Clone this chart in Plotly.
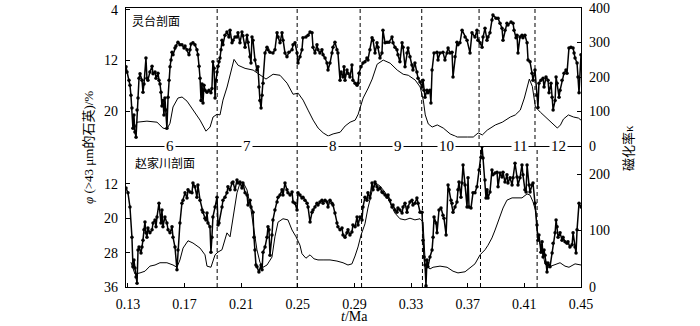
import plotly.graph_objects as go

# -------------------------
# Lingtai section (top panel)
# -------------------------
lt_q_t = [0.1286, 0.1293, 0.1307, 0.1314, 0.1321, 0.1328, 0.1335, 0.1342, 0.1349, 0.1357,
          0.1364, 0.1371, 0.1378, 0.1385, 0.1399, 0.1406, 0.1413, 0.1427, 0.1434, 0.1441,
          0.1455, 0.1470, 0.1477, 0.1491, 0.1498, 0.1512, 0.1519, 0.1526, 0.1533, 0.1540,
          0.1547, 0.1554, 0.1561, 0.1568, 0.1575, 0.1583, 0.1590, 0.1597, 0.1604, 0.1611,
          0.1618, 0.1632, 0.1639, 0.1653, 0.1667, 0.1681, 0.1696, 0.1703, 0.1717, 0.1731,
          0.1738, 0.1745, 0.1759, 0.1773, 0.1787, 0.1794, 0.1802, 0.1809, 0.1816, 0.1823,
          0.1830, 0.1837, 0.1844, 0.1858, 0.1872, 0.1886, 0.1893, 0.1900, 0.1908, 0.1915,
          0.1922, 0.1929, 0.1936, 0.1943, 0.1950, 0.1957, 0.1964, 0.1971, 0.1985, 0.1999,
          0.2013, 0.2021, 0.2035, 0.2042, 0.2056, 0.2070, 0.2077, 0.2091, 0.2105, 0.2112,
          0.2127, 0.2141, 0.2148, 0.2162, 0.2169, 0.2176, 0.2183, 0.2197, 0.2211, 0.2218,
          0.2225, 0.2232, 0.2240, 0.2247, 0.2254, 0.2268, 0.2282, 0.2289, 0.2303, 0.2324,
          0.2338, 0.2353, 0.2360, 0.2374, 0.2388, 0.2395, 0.2409, 0.2423, 0.2437, 0.2459,
          0.2466, 0.2480, 0.2494, 0.2501, 0.2515, 0.2529, 0.2536, 0.2557, 0.2572, 0.2586,
          0.2600, 0.2607, 0.2621, 0.2635, 0.2642, 0.2656, 0.2670, 0.2678, 0.2692, 0.2706,
          0.2713, 0.2727, 0.2741, 0.2748, 0.2762, 0.2776, 0.2783, 0.2798, 0.2805, 0.2819,
          0.2826, 0.2833, 0.2847, 0.2854, 0.2868, 0.2882, 0.2889, 0.2904, 0.2918, 0.2925,
          0.2932, 0.2946, 0.2960, 0.2974, 0.2988, 0.2995, 0.3009, 0.3024, 0.3031, 0.3045,
          0.3059, 0.3066, 0.3080, 0.3094, 0.3101, 0.3116, 0.3130, 0.3144, 0.3165, 0.3172,
          0.3186, 0.3200, 0.3207, 0.3221, 0.3236, 0.3243, 0.3257, 0.3271, 0.3278, 0.3292,
          0.3306, 0.3313, 0.3327, 0.3341, 0.3349, 0.3363, 0.3377, 0.3384, 0.3391, 0.3398,
          0.3412, 0.3419, 0.3433, 0.3440, 0.3448, 0.3462, 0.3483, 0.3490, 0.3504, 0.3525,
          0.3539, 0.3554, 0.3561, 0.3575, 0.3589, 0.3596, 0.3610, 0.3624, 0.3631, 0.3645,
          0.3660, 0.3681, 0.3695, 0.3716, 0.3730, 0.3751, 0.3765, 0.3772, 0.3787, 0.3801,
          0.3808, 0.3822, 0.3836, 0.3843, 0.3857, 0.3871, 0.3878, 0.3900, 0.3914, 0.3928,
          0.3942, 0.3949, 0.3963, 0.3977, 0.3984, 0.4006, 0.4020, 0.4027, 0.4041, 0.4048,
          0.4055, 0.4069, 0.4083, 0.4090, 0.4104, 0.4119, 0.4126, 0.4140, 0.4154, 0.4161,
          0.4175, 0.4189, 0.4196, 0.4203, 0.4217, 0.4232, 0.4239, 0.4253, 0.4267, 0.4274,
          0.4288, 0.4296, 0.4303, 0.4317, 0.4324, 0.4331, 0.4345, 0.4352, 0.4366, 0.4380,
          0.4394, 0.4401, 0.4415, 0.4429, 0.4444, 0.4451, 0.4458, 0.4472, 0.4479, 0.4486,
          0.4500]
lt_quartz = [13.0, 13.8, 15.1, 15.9, 17.5, 19.5, 22.7, 20.6, 23.3, 24.1,
             19.8, 17.9, 14.8, 14.1, 15.1, 17.0, 15.7, 11.6, 14.8, 15.1,
             13.8, 12.9, 14.1, 13.8, 14.8, 14.0, 15.1, 15.7, 17.0, 19.2,
             18.3, 20.6, 17.9, 19.8, 22.7, 17.8, 15.1, 13.0, 11.9, 10.7,
             11.1, 10.0, 9.7, 9.1, 9.5, 9.5, 10.0, 9.7, 10.3, 11.1,
             10.3, 9.4, 9.2, 9.5, 10.3, 11.1, 12.9, 14.8, 18.3, 15.7,
             18.7, 15.9, 16.7, 17.0, 16.7, 17.1, 16.4, 12.2, 13.2, 17.9,
             15.1, 13.8, 12.9, 12.2, 11.6, 10.3, 8.8, 9.5, 8.0, 7.5,
             8.3, 7.2, 9.2, 8.8, 8.3, 8.3, 7.6, 9.2, 7.5, 8.1,
             9.9, 8.0, 9.1, 11.4, 12.4, 8.3, 8.8, 11.9, 13.5, 13.0,
             16.2, 18.3, 19.5, 17.5, 15.6, 10.8, 9.9, 10.3, 10.7, 10.8,
             10.3, 7.6, 8.3, 9.2, 7.6, 8.8, 10.8, 11.4, 10.7, 10.3,
             9.5, 9.2, 10.8, 12.4, 11.4, 10.3, 8.4, 8.3, 8.0, 7.5,
             7.6, 9.9, 10.8, 9.5, 10.3, 10.8, 10.3, 11.1, 11.6, 12.4,
             13.5, 12.4, 10.8, 9.9, 9.1, 10.3, 10.8, 15.1, 13.8, 14.6,
             13.0, 15.1, 13.5, 14.0, 14.6, 12.7, 15.1, 15.6, 15.9, 15.6,
             14.0, 13.0, 12.4, 12.2, 11.6, 11.9, 10.3, 8.4, 8.8, 10.8,
             9.2, 9.9, 11.6, 10.8, 7.2, 9.2, 9.1, 9.1, 8.3, 9.2,
             9.9, 10.3, 11.1, 12.2, 9.2, 9.9, 13.0, 10.8, 10.0, 11.4,
             12.7, 13.5, 12.4, 13.8, 14.8, 15.4, 16.2, 15.1, 16.7, 17.8,
             16.7, 17.1, 16.7, 18.7, 13.5, 10.8, 10.7, 11.9, 10.8, 10.7,
             11.9, 10.8, 10.0, 10.8, 10.7, 14.6, 11.4, 9.1, 9.5, 9.2,
             7.2, 8.3, 8.8, 10.8, 7.6, 8.3, 7.2, 8.8, 9.2, 9.9,
             8.3, 6.9, 8.8, 8.3, 7.6, 5.6, 4.8, 5.3, 5.3, 6.1,
             6.9, 8.8, 7.2, 6.1, 6.4, 5.9, 6.1, 7.2, 8.4, 8.0,
             10.8, 8.3, 8.0, 8.4, 8.0, 9.2, 11.9, 12.2, 14.0, 15.1,
             13.5, 17.5, 19.4, 15.6, 15.1, 14.8, 16.2, 14.6, 15.1, 17.1,
             15.6, 17.8, 19.8, 18.3, 14.6, 15.6, 17.8, 16.7, 15.1, 14.0,
             13.5, 14.0, 10.0, 9.9, 10.0, 10.8, 11.6, 12.4, 14.6, 17.1,
             11.1]

lt_k_t = [0.1342, 0.1364, 0.1434, 0.1505, 0.1547, 0.1575, 0.1597, 0.1618, 0.1653, 0.1682,
          0.1717, 0.1760, 0.1809, 0.1851, 0.1880, 0.1901, 0.1929, 0.1950, 0.1971, 0.2000,
          0.2028, 0.2049, 0.2078, 0.2127, 0.2184, 0.2233, 0.2275, 0.2325, 0.2374, 0.2424,
          0.2466, 0.2502, 0.2537, 0.2572, 0.2608, 0.2643, 0.2679, 0.2714, 0.2749, 0.2799,
          0.2834, 0.2869, 0.2905, 0.2926, 0.2961, 0.2997, 0.3025, 0.3060, 0.3103, 0.3152,
          0.3202, 0.3244, 0.3280, 0.3329, 0.3364, 0.3386, 0.3400, 0.3421, 0.3449, 0.3485,
          0.3527, 0.3576, 0.3626, 0.3697, 0.3739, 0.3774, 0.3803, 0.3838, 0.3895, 0.3944,
          0.4001, 0.4036, 0.4071, 0.4100, 0.4121, 0.4135, 0.4156, 0.4178, 0.4213, 0.4248,
          0.4298, 0.4333, 0.4355, 0.4376, 0.4411, 0.4447, 0.4482, 0.4500]
lt_kappa = [46, 69, 72, 69, 52, 49, 66, 113, 139, 142,
            130, 104, 75, 43, 55, 84, 92, 90, 133, 171,
            220, 251, 234, 225, 220, 205, 194, 208, 205, 182,
            150, 153, 133, 104, 75, 52, 38, 29, 35, 40,
            58, 69, 75, 92, 139, 168, 194, 237, 249, 240,
            220, 208, 205, 191, 171, 133, 90, 64, 55, 61,
            52, 35, 26, 26, 26, 38, 32, 46, 61, 69,
            84, 90, 104, 139, 171, 194, 173, 113, 98, 84,
            66, 52, 61, 78, 90, 84, 81, 75]

# -------------------------
# Zhaojiachuan section (bottom panel)
# -------------------------
zj_q_t = [0.1286, 0.1300, 0.1314, 0.1328, 0.1335, 0.1342, 0.1349, 0.1357, 0.1364, 0.1371,
          0.1378, 0.1392, 0.1399, 0.1406, 0.1413, 0.1420, 0.1427, 0.1434, 0.1441, 0.1455,
          0.1470, 0.1477, 0.1491, 0.1498, 0.1505, 0.1519, 0.1533, 0.1540, 0.1547, 0.1561,
          0.1575, 0.1583, 0.1597, 0.1611, 0.1618, 0.1632, 0.1646, 0.1653, 0.1667, 0.1681,
          0.1689, 0.1703, 0.1717, 0.1724, 0.1738, 0.1752, 0.1759, 0.1773, 0.1787, 0.1794,
          0.1809, 0.1823, 0.1830, 0.1844, 0.1851, 0.1858, 0.1865, 0.1879, 0.1886, 0.1893,
          0.1900, 0.1915, 0.1929, 0.1936, 0.1943, 0.1964, 0.1971, 0.1985, 0.1999, 0.2006,
          0.2021, 0.2035, 0.2042, 0.2056, 0.2070, 0.2077, 0.2091, 0.2105, 0.2112, 0.2127,
          0.2141, 0.2148, 0.2162, 0.2169, 0.2183, 0.2190, 0.2197, 0.2204, 0.2211, 0.2225,
          0.2240, 0.2247, 0.2254, 0.2268, 0.2282, 0.2289, 0.2296, 0.2303, 0.2317, 0.2324,
          0.2338, 0.2353, 0.2360, 0.2374, 0.2388, 0.2395, 0.2409, 0.2423, 0.2430, 0.2445,
          0.2459, 0.2466, 0.2480, 0.2494, 0.2501, 0.2515, 0.2529, 0.2536, 0.2550, 0.2565,
          0.2572, 0.2586, 0.2600, 0.2607, 0.2621, 0.2635, 0.2642, 0.2656, 0.2670, 0.2678,
          0.2692, 0.2706, 0.2713, 0.2727, 0.2741, 0.2748, 0.2762, 0.2776, 0.2783, 0.2798,
          0.2812, 0.2819, 0.2833, 0.2847, 0.2854, 0.2868, 0.2882, 0.2889, 0.2904, 0.2918,
          0.2925, 0.2939, 0.2953, 0.2960, 0.2974, 0.2988, 0.2995, 0.3009, 0.3024, 0.3031,
          0.3045, 0.3059, 0.3066, 0.3080, 0.3094, 0.3101, 0.3116, 0.3130, 0.3137, 0.3151,
          0.3165, 0.3172, 0.3186, 0.3200, 0.3207, 0.3221, 0.3236, 0.3243, 0.3257, 0.3271,
          0.3278, 0.3292, 0.3306, 0.3313, 0.3327, 0.3341, 0.3349, 0.3363, 0.3377, 0.3384,
          0.3391, 0.3398, 0.3405, 0.3412, 0.3419, 0.3433, 0.3448, 0.3455, 0.3462, 0.3476,
          0.3483, 0.3497, 0.3511, 0.3525, 0.3532, 0.3547, 0.3561, 0.3568, 0.3582, 0.3589,
          0.3596, 0.3610, 0.3624, 0.3631, 0.3638, 0.3652, 0.3660, 0.3667, 0.3681, 0.3695,
          0.3702, 0.3709, 0.3723, 0.3737, 0.3751, 0.3765, 0.3780, 0.3794, 0.3801, 0.3808,
          0.3822, 0.3829, 0.3836, 0.3843, 0.3857, 0.3871, 0.3878, 0.3893, 0.3907, 0.3914,
          0.3928, 0.3942, 0.3949, 0.3963, 0.3977, 0.3984, 0.3999, 0.4013, 0.4020, 0.4034,
          0.4048, 0.4055, 0.4069, 0.4083, 0.4090, 0.4104, 0.4112, 0.4119, 0.4133, 0.4140,
          0.4154, 0.4161, 0.4175, 0.4189, 0.4196, 0.4203, 0.4217, 0.4225, 0.4232, 0.4239,
          0.4246, 0.4253, 0.4260, 0.4267, 0.4281, 0.4296, 0.4303, 0.4317, 0.4324, 0.4331,
          0.4338, 0.4352, 0.4366, 0.4373, 0.4387, 0.4401, 0.4408, 0.4422, 0.4437, 0.4444,
          0.4458, 0.4465, 0.4472, 0.4486, 0.4500]
zj_quartz = [13.0, 14.1, 17.4, 24.4, 31.3, 29.7, 31.6, 33.7, 35.1, 27.4,
             26.7, 28.1, 26.7, 25.1, 22.7, 20.9, 23.4, 24.4, 22.3, 23.4,
             22.7, 21.1, 20.4, 22.0, 19.7, 16.5, 21.1, 18.1, 22.0, 19.7,
             21.1, 22.7, 23.4, 22.0, 24.4, 26.7, 32.0, 27.4, 21.1, 16.5,
             15.8, 14.1, 15.3, 13.4, 13.9, 14.1, 11.8, 12.7, 15.1, 12.3,
             15.8, 18.1, 18.6, 20.0, 20.4, 18.8, 21.1, 22.0, 27.9, 24.4,
             19.7, 17.4, 15.1, 21.6, 21.1, 17.4, 15.8, 15.1, 14.1, 12.7,
             13.4, 11.8, 11.6, 13.4, 11.1, 11.8, 11.6, 13.0, 11.8, 14.1,
             14.6, 16.9, 15.8, 17.4, 18.6, 24.4, 27.4, 30.9, 31.3, 32.5,
             30.9, 32.0, 27.9, 26.7, 24.4, 22.0, 22.7, 28.6, 23.9, 20.4,
             18.1, 16.2, 15.1, 14.6, 13.4, 14.6, 11.8, 13.4, 14.1, 14.6,
             13.9, 16.2, 16.5, 18.1, 14.1, 14.6, 15.3, 15.1, 15.8, 16.5,
             17.4, 20.9, 18.6, 18.1, 17.4, 16.5, 16.9, 16.2, 15.8, 16.5,
             15.8, 16.2, 17.4, 15.8, 16.5, 16.9, 18.8, 21.1, 22.0, 22.7,
             22.3, 23.9, 24.4, 23.4, 22.7, 23.9, 23.2, 21.6, 22.0, 19.7,
             21.6, 19.7, 20.4, 17.4, 15.1, 15.8, 14.1, 15.3, 11.8, 13.4,
             11.6, 12.7, 13.4, 13.0, 13.9, 14.1, 14.6, 15.1, 14.6, 15.8,
             17.4, 16.9, 18.1, 18.6, 17.6, 18.1, 18.8, 17.4, 16.5, 18.6,
             17.4, 16.2, 15.8, 16.9, 16.5, 15.3, 16.5, 18.6, 18.6, 25.1,
             29.0, 30.9, 35.7, 29.7, 31.3, 29.0, 27.4, 24.4, 19.7, 21.1,
             23.4, 18.1, 17.6, 19.3, 20.0, 23.9, 12.3, 13.4, 15.8, 16.5,
             18.6, 17.4, 16.2, 13.4, 11.6, 15.1, 11.8, 7.6, 12.3, 17.4,
             10.6, 17.4, 17.6, 14.1, 14.1, 12.7, 8.8, 5.8, 3.3, 6.0,
             11.1, 15.3, 13.4, 15.3, 13.9, 8.8, 9.9, 9.5, 9.3, 12.7,
             9.5, 10.4, 9.3, 11.6, 9.9, 11.8, 10.6, 12.3, 10.6, 7.2,
             10.4, 12.3, 10.6, 7.6, 9.9, 13.4, 13.9, 7.6, 12.3, 13.9,
             12.3, 11.8, 16.5, 21.6, 25.1, 23.9, 27.9, 25.5, 29.0, 27.4,
             28.6, 30.4, 32.5, 30.4, 31.3, 28.1, 25.8, 23.4, 20.4, 22.0,
             24.4, 23.4, 25.1, 24.4, 25.5, 25.8, 25.5, 26.7, 26.2, 23.4,
             26.7, 28.1, 22.7, 16.5, 17.4]

zj_k_t = [0.1321, 0.1349, 0.1385, 0.1420, 0.1455, 0.1491, 0.1526, 0.1575, 0.1618, 0.1646,
          0.1667, 0.1689, 0.1724, 0.1759, 0.1809, 0.1844, 0.1858, 0.1886, 0.1915, 0.1936,
          0.1964, 0.1985, 0.1999, 0.2021, 0.2035, 0.2056, 0.2070, 0.2091, 0.2112, 0.2141,
          0.2169, 0.2190, 0.2211, 0.2232, 0.2254, 0.2282, 0.2317, 0.2338, 0.2360, 0.2395,
          0.2430, 0.2459, 0.2487, 0.2515, 0.2529, 0.2557, 0.2586, 0.2614, 0.2642, 0.2678,
          0.2727, 0.2776, 0.2819, 0.2854, 0.2882, 0.2904, 0.2925, 0.2946, 0.2974, 0.2995,
          0.3024, 0.3052, 0.3080, 0.3116, 0.3151, 0.3186, 0.3221, 0.3257, 0.3292, 0.3327,
          0.3363, 0.3384, 0.3398, 0.3412, 0.3433, 0.3455, 0.3504, 0.3554, 0.3596, 0.3631,
          0.3681, 0.3716, 0.3751, 0.3787, 0.3822, 0.3843, 0.3871, 0.3893, 0.3928, 0.3949,
          0.3977, 0.4013, 0.4048, 0.4083, 0.4119, 0.4140, 0.4161, 0.4182, 0.4189, 0.4203,
          0.4225, 0.4246, 0.4267, 0.4303, 0.4352, 0.4387, 0.4415, 0.4458, 0.4493, 0.4500]
zj_kappa = [44, 23, 25, 28, 37, 39, 43, 43, 39, 35,
            48, 69, 82, 78, 69, 57, 37, 35, 57, 62,
            66, 83, 96, 89, 110, 142, 167, 184, 186, 172,
            137, 101, 66, 44, 35, 39, 53, 89, 115, 121,
            119, 101, 89, 74, 59, 51, 57, 50, 48, 48,
            48, 46, 43, 39, 41, 55, 71, 92, 112, 140,
            170, 184, 179, 168, 149, 131, 121, 119, 122, 119,
            121, 115, 51, 37, 32, 35, 37, 35, 28, 25,
            27, 34, 41, 57, 66, 74, 87, 101, 126, 140,
            154, 158, 158, 158, 165, 163, 151, 133, 105, 83,
            66, 41, 35, 39, 43, 37, 35, 41, 39, 39]

# stage boundaries (dashed) and marine isotope stage numbers
stage_bounds_top = [0.193, 0.2495, 0.294, 0.3375, 0.378, 0.4175]
stage_bounds_bottom = [0.193, 0.2495, 0.295, 0.338, 0.379, 0.419]
stage_names = ["6", "7", "8", "9", "10", "11", "12"]
stage_pos = [0.1597, 0.2141, 0.2749, 0.3207, 0.3547, 0.4069, 0.4338]

x_ticks = [0.13, 0.17, 0.21, 0.25, 0.29, 0.33, 0.37, 0.41, 0.45]

SERIF = "Liberation Serif, Times New Roman, serif"
MIXED = "Liberation Serif, Noto Sans CJK SC, serif"
split = 0.5054

fig = go.Figure()

# top panel
fig.add_trace(go.Scatter(x=lt_q_t, y=lt_quartz, xaxis="x2", yaxis="y3",
                         mode="lines+markers",
                         line=dict(color="black", width=1.5),
                         marker=dict(size=3.5, color="black")))
fig.add_trace(go.Scatter(x=lt_k_t, y=lt_kappa, xaxis="x2", yaxis="y4",
                         mode="lines", line=dict(color="black", width=1)))

# bottom panel
fig.add_trace(go.Scatter(x=zj_q_t, y=zj_quartz, xaxis="x", yaxis="y",
                         mode="lines+markers",
                         line=dict(color="black", width=1.5),
                         marker=dict(size=3.5, color="black")))
fig.add_trace(go.Scatter(x=zj_k_t, y=zj_kappa, xaxis="x", yaxis="y2",
                         mode="lines", line=dict(color="black", width=1)))

axis_common = dict(showgrid=False, zeroline=False, showline=True,
                   linecolor="black", linewidth=1.2, ticks="inside",
                   ticklen=4, tickcolor="black", automargin=False,
                   tickfont=dict(family=SERIF, size=14, color="black"))

# -------------------------
# Stage lines and labels
# -------------------------
shapes = []
for xb in stage_bounds_top:
    shapes.append(dict(type="line", xref="x", yref="y3 domain", x0=xb, x1=xb,
                       y0=0, y1=1, line=dict(color="black", width=1, dash="4px,3px")))
for xb in stage_bounds_bottom:
    shapes.append(dict(type="line", xref="x", yref="y domain", x0=xb, x1=xb,
                       y0=0, y1=1, line=dict(color="black", width=1, dash="4px,3px")))

annotations = []
for name, xp in zip(stage_names, stage_pos):
    annotations.append(dict(x=xp, y=split, xref="x", yref="paper", text=name,
                            showarrow=False, bgcolor="white", borderpad=1,
                            xanchor="center", yanchor="middle",
                            font=dict(family=SERIF, size=15, color="black")))

annotations += [
    dict(x=0.009, y=0.950, xref="paper", yref="paper", text="灵台剖面",
         showarrow=False, xanchor="left", yanchor="middle",
         font=dict(family=MIXED, size=12, color="black")),
    dict(x=0.015, y=0.441, xref="paper", yref="paper", text="赵家川剖面",
         showarrow=False, xanchor="left", yanchor="middle",
         font=dict(family=MIXED, size=12, color="black")),
    dict(x=-0.0835, y=0.498, xref="paper", yref="paper",
         text="<i>φ</i> (>43 μm的石英)/%", textangle=-90,
         showarrow=False, xanchor="center", yanchor="middle",
         font=dict(family=MIXED, size=13, color="black")),
    dict(x=1.103, y=0.498, xref="paper", yref="paper", text="磁化率κ",
         textangle=-90, showarrow=False, xanchor="center", yanchor="middle",
         font=dict(family=MIXED, size=13, color="black")),
    dict(x=0.503, y=-0.1075, xref="paper", yref="paper", text="<i>t</i>/Ma",
         showarrow=False, xanchor="center", yanchor="middle",
         font=dict(family=SERIF, size=14, color="black")),
]

fig.update_layout(
    width=700, height=326,
    margin=dict(l=126, r=119, t=8, b=39, autoexpand=False),
    paper_bgcolor="white", plot_bgcolor="white",
    showlegend=False,
    xaxis=dict(axis_common, domain=[0, 1], anchor="y", range=[0.1286, 0.45],
               tickvals=x_ticks, ticktext=[f"{v:.2f}" for v in x_ticks],
               ticklabelstandoff=4),
    xaxis2=dict(axis_common, domain=[0, 1], anchor="y3", matches="x",
                showticklabels=False, ticks="", mirror=True),
    yaxis=dict(axis_common, domain=[0, split], anchor="x", range=[36, 3.2],
               tickvals=[12, 20, 28, 36], ticklabelstandoff=4),
    yaxis2=dict(axis_common, overlaying="y", side="right", anchor="x",
                range=[0, 250], tickvals=[0, 100, 200], ticklabelstandoff=4),
    yaxis3=dict(axis_common, domain=[split, 1], anchor="x2", range=[25.5, 3.7],
                tickvals=[4, 12, 20], ticklabelstandoff=4),
    yaxis4=dict(axis_common, overlaying="y3", side="right", anchor="x2",
                range=[0, 400], tickvals=[0, 100, 200, 300, 400],
                ticklabelstandoff=4),
    shapes=shapes,
    annotations=annotations,
)

# the page's default body margin would shift the figure by 8 px
fig.write_html("out.html", config={"displayModeBar": False},
               post_script="document.body.style.margin = '0px';")
